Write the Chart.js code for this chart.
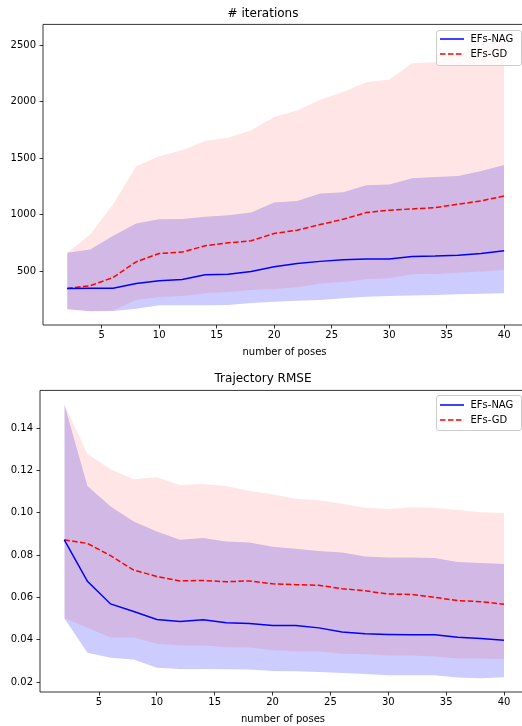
<!DOCTYPE html>
<html>
<head>
<meta charset="utf-8">
<script src="https://cdn.jsdelivr.net/npm/chart.js@4.4.0/dist/chart.umd.min.js"></script>
<style>
  html, body { margin: 0; padding: 0; background: #fff; overflow: hidden; width: 522px; height: 726px; }
  .panel { position: absolute; left: 0; width: 522px; height: 363px; overflow: hidden; }
  .panel canvas { position: absolute; left: 0; top: 0; }
  .legend {
    position: absolute; left: 435.5px; width: 84px; height: 34px;
    border: 1px solid #ccc; border-radius: 3px; background: rgba(255,255,255,0.8);
    font: 10px "DejaVu Sans", sans-serif; color: #000;
  }
  .legend .row { position: absolute; left: 0; height: 12px; width: 84px; }
  .legend svg { position: absolute; left: 3px; top: 2px; }
  .legend span { position: absolute; left: 34px; top: -1px; white-space: nowrap; }
</style>
</head>
<body>
<div class="panel" style="top:0"><canvas id="iters" width="540" height="363"></canvas><div class="legend" id="leg1" style="top:29.5px"></div></div>
<div class="panel" style="top:363px"><canvas id="rmse" width="540" height="363"></canvas><div class="legend" id="leg2" style="top:32px"></div></div>
<script>
// x values: number of poses
const poses = [2, 4, 6, 8, 10, 12, 14, 16, 18, 20, 22, 24, 26, 28, 30, 32, 34, 36, 38, 40];
const seriesNames = ["EFs-NAG", "EFs-GD"];
const xTicks = [5, 10, 15, 20, 25, 30, 35, 40];

// # iterations
const iterNagMean  = [347, 348, 348, 391, 414, 426, 467, 473, 497, 538, 568, 586, 600, 606, 606, 630, 633, 641, 656, 679];
const iterNagUpper = [662, 692, 812, 921, 959, 962, 980, 995, 1018, 1107, 1121, 1186, 1198, 1260, 1266, 1322, 1333, 1342, 1386, 1439];
const iterNagLower = [162, 144, 147, 167, 197, 197, 197, 200, 217, 229, 238, 244, 259, 273, 279, 285, 288, 294, 300, 303];
const iterGdMean   = [347, 370, 444, 582, 656, 668, 724, 750, 768, 833, 862, 912, 959, 1018, 1039, 1050, 1062, 1092, 1121, 1165];
const iterGdUpper  = [662, 824, 1092, 1428, 1516, 1569, 1651, 1681, 1746, 1863, 1922, 2017, 2084, 2172, 2196, 2340, 2349, 2420, 2490, 2562];
const iterGdLower  = [162, 144, 152, 244, 270, 279, 303, 314, 332, 341, 356, 391, 403, 427, 436, 471, 474, 485, 497, 509];
const iterTicks = [500, 1000, 1500, 2000, 2500];

// Trajectory RMSE
const rmseNagMean  = [0.0872, 0.0676, 0.0569, 0.0533, 0.0496, 0.0486, 0.0494, 0.0480, 0.0477, 0.0467, 0.0467, 0.0456, 0.0436, 0.0428, 0.0425, 0.0424, 0.0423, 0.0412, 0.0406, 0.0398];
const rmseNagUpper = [0.1513, 0.1126, 0.1029, 0.0958, 0.0911, 0.0872, 0.0881, 0.0864, 0.0859, 0.0839, 0.0830, 0.0819, 0.0812, 0.0793, 0.0789, 0.0789, 0.0786, 0.0767, 0.0762, 0.0758];
const rmseNagLower = [0.0502, 0.0339, 0.0315, 0.0306, 0.0268, 0.0262, 0.0262, 0.0261, 0.0259, 0.0252, 0.0251, 0.0248, 0.0243, 0.0238, 0.0232, 0.0232, 0.0232, 0.0221, 0.0218, 0.0223];
const rmseGdMean   = [0.0872, 0.0855, 0.0797, 0.0729, 0.0699, 0.0678, 0.0680, 0.0674, 0.0678, 0.0664, 0.0660, 0.0657, 0.0641, 0.0631, 0.0616, 0.0614, 0.0600, 0.0585, 0.0580, 0.0568];
const rmseGdUpper  = [0.1513, 0.1278, 0.1205, 0.1158, 0.1168, 0.1131, 0.1136, 0.1126, 0.1103, 0.1087, 0.1066, 0.1059, 0.1043, 0.1024, 0.1018, 0.1026, 0.1024, 0.1013, 0.1002, 0.0999];
const rmseGdLower  = [0.0502, 0.0456, 0.0411, 0.0411, 0.0381, 0.0373, 0.0373, 0.0364, 0.0363, 0.0350, 0.0345, 0.0344, 0.0334, 0.0331, 0.0325, 0.0325, 0.0321, 0.0311, 0.0311, 0.0309];
const rmseTicks = [0.02, 0.04, 0.06, 0.08, 0.10, 0.12, 0.14];

const FONT = "'DejaVu Sans', sans-serif";
const BLUE = "#0000ff";
const RED = "#ff0000";
const GD_DASH = [5.55, 2.4];

const pts = (ys) => poses.map((x, i) => ({ x: x, y: ys[i] }));

// left, top and bottom spines (the right one sits past the page edge)
const spines = {
  id: "spines",
  afterDraw(chart) {
    const { ctx, chartArea: a } = chart;
    ctx.save();
    ctx.strokeStyle = "#000";
    ctx.lineWidth = 0.8;
    ctx.beginPath();
    ctx.moveTo(a.right + 10, a.top);
    ctx.lineTo(a.left, a.top);
    ctx.lineTo(a.left, a.bottom);
    ctx.lineTo(a.right + 10, a.bottom);
    ctx.stroke();
    ctx.restore();
  }
};

const makeChart = (id, cfg) => {
  const band = (ys, color, fill) => ({
    data: pts(ys), borderWidth: 0, pointRadius: 0, backgroundColor: color,
    fill: fill ? "+1" : false, tension: 0
  });
  return new Chart(document.getElementById(id), {
    type: "line",
    data: {
      datasets: [
        { label: seriesNames[0], data: pts(cfg.nagMean), borderColor: BLUE, borderWidth: 1.5, pointRadius: 0, fill: false, tension: 0 },
        { label: seriesNames[1], data: pts(cfg.gdMean), borderColor: RED, borderWidth: 1.5, borderDash: GD_DASH, pointRadius: 0, fill: false, tension: 0 },
        band(cfg.gdUpper, "rgba(255,0,0,0.1)", true),
        band(cfg.gdLower, "rgba(255,0,0,0.1)", false),
        band(cfg.nagUpper, "rgba(0,0,255,0.2)", true),
        band(cfg.nagLower, "rgba(0,0,255,0.2)", false)
      ]
    },
    options: {
      responsive: false,
      animation: false,
      devicePixelRatio: 1,
      layout: { padding: { left: 0, right: 540 - 526, top: 0, bottom: 0 } },
      plugins: {
        legend: { display: false },
        tooltip: { enabled: false },
        title: {
          display: true, text: cfg.title, color: "#000",
          font: { family: FONT, size: 12, weight: "normal" },
          padding: cfg.titlePad
        }
      },
      scales: {
        x: {
          type: "linear", min: -0.1, max: 41.9,
          afterBuildTicks: (s) => { s.ticks = xTicks.map(v => ({ value: v })); },
          afterFit: (s) => { s.height = cfg.xHeight; },
          grid: { drawOnChartArea: false, drawTicks: true, tickLength: 3.5, tickWidth: 0.8, color: "#000" },
          border: { display: false },
          ticks: { color: "#000", font: { family: FONT, size: 10 }, padding: 1, autoSkip: false, maxRotation: 0 },
          title: { display: true, text: "number of poses", color: "#000", font: { family: FONT, size: 10 }, padding: { top: 0, bottom: cfg.xTitlePad } }
        },
        y: {
          type: "linear", min: cfg.yMin, max: cfg.yMax,
          afterBuildTicks: (s) => { s.ticks = cfg.yTicks.map(v => ({ value: v })); },
          afterFit: (s) => { s.width = cfg.yWidth; },
          grid: { drawOnChartArea: false, drawTicks: true, tickLength: 3.5, tickWidth: 0.8, color: "#000" },
          border: { display: false },
          ticks: { color: "#000", font: { family: FONT, size: 10 }, padding: 3.5, autoSkip: false, callback: cfg.fmt }
        }
      }
    },
    plugins: [spines]
  });
};

makeChart("iters", {
  title: "# iterations",
  nagMean: iterNagMean, nagUpper: iterNagUpper, nagLower: iterNagLower,
  gdMean: iterGdMean, gdUpper: iterGdUpper, gdLower: iterGdLower,
  yMin: 23, yMax: 2683, yTicks: iterTicks, fmt: (v) => String(v),
  titlePad: { top: 7, bottom: 3 }, xHeight: 38, xTitlePad: 5, yWidth: 43
});

makeChart("rmse", {
  title: "Trajectory RMSE",
  nagMean: rmseNagMean, nagUpper: rmseNagUpper, nagLower: rmseNagLower,
  gdMean: rmseGdMean, gdUpper: rmseGdUpper, gdLower: rmseGdLower,
  yMin: 0.0153, yMax: 0.1578, yTicks: rmseTicks, fmt: (v) => v.toFixed(2),
  titlePad: { top: 9, bottom: 4 }, xHeight: 34, xTitlePad: 1, yWidth: 40
});

// legends
const buildLegend = (id) => {
  const el = document.getElementById(id);
  const styles = [{ color: BLUE, dash: "" }, { color: RED, dash: GD_DASH.join(",") }];
  seriesNames.forEach((name, i) => {
    const row = document.createElement("div");
    row.className = "row";
    row.style.top = (3.5 + i * 15) + "px";
    row.innerHTML = `<svg width="24" height="6"><line x1="0" y1="3" x2="24" y2="3" stroke="${styles[i].color}" stroke-width="1.5" ${styles[i].dash ? `stroke-dasharray="${styles[i].dash}"` : ""}/></svg><span>${name}</span>`;
    el.appendChild(row);
  });
};
buildLegend("leg1");
buildLegend("leg2");
</script>
</body>
</html>
